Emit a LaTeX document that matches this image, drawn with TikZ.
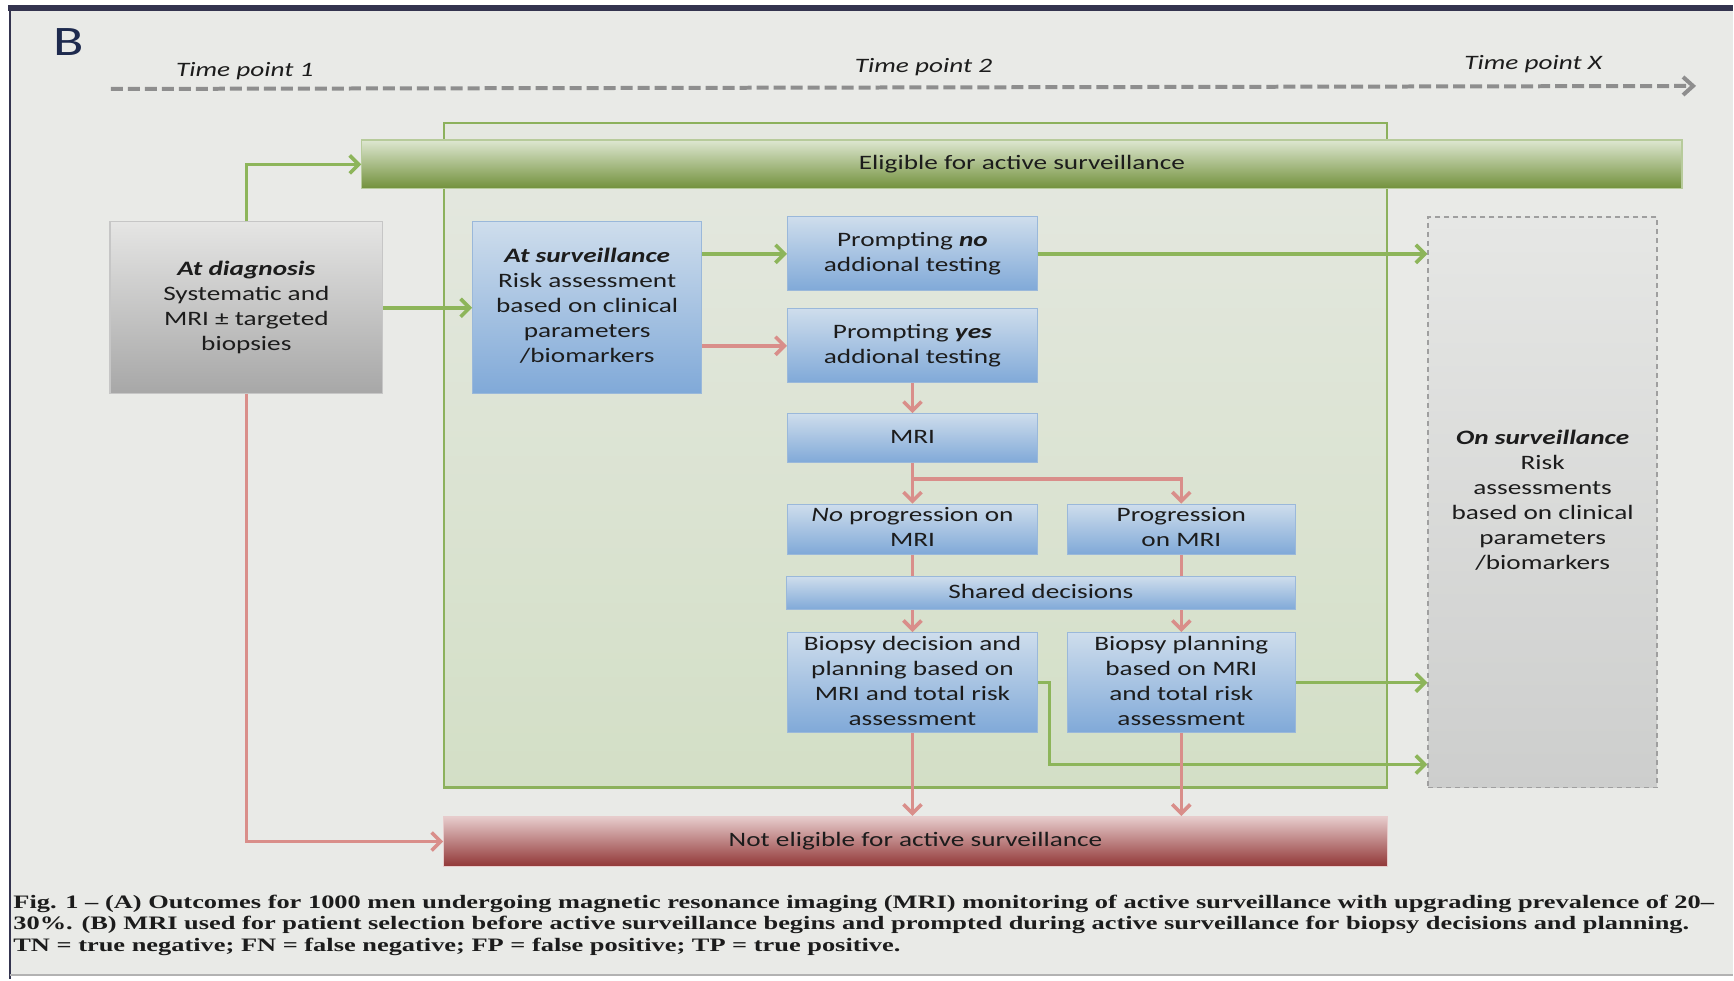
\documentclass[tikz,border=0pt]{standalone}
\usepackage{fontspec}
\setmainfont{Carlito}
\newfontfamily\captionserif{Liberation Serif}
\usepackage{graphicx}
\usetikzlibrary{arrows.meta}

\definecolor{pagebg}{HTML}{E9EAE7}
\definecolor{frameline}{HTML}{34344F}
\definecolor{txtdark}{HTML}{1C1C1C}
\definecolor{letterB}{HTML}{1E2A4E}
\definecolor{arrgreen}{HTML}{8DB55A}
\definecolor{arrred}{HTML}{D98E8A}
\definecolor{timegray}{HTML}{8E8E8E}
\definecolor{paneledge}{HTML}{8CB15C}
\definecolor{paneltop}{HTML}{E5E8E1}
\definecolor{panelbot}{HTML}{D3DFC6}
\definecolor{eligtop}{HTML}{DEE7D1}
\definecolor{eligmid}{HTML}{B7CB9B}
\definecolor{eligbot}{HTML}{71903A}
\definecolor{notetop}{HTML}{E7CCCC}
\definecolor{notemid}{HTML}{C58B8B}
\definecolor{notebot}{HTML}{913737}
\definecolor{graytop}{HTML}{E5E5E4}
\definecolor{graybot}{HTML}{A7A7A7}
\definecolor{bluetop}{HTML}{CEDDEC}
\definecolor{bluebot}{HTML}{80A9D8}
\definecolor{blueedge}{HTML}{9AB8DA}
\definecolor{survtop}{HTML}{E6E7E5}
\definecolor{survbot}{HTML}{CDCECD}

\newcommand{\widetext}[1]{\scalebox{1.33}[1]{\begin{tabular}{@{}c@{}}#1\end{tabular}}}
\newcommand{\widecaption}[1]{\scalebox{1.39}[1]{#1}}

\begin{document}
\begin{tikzpicture}[x=0.5pt,y=-0.5pt]
  \tikzstyle{every node}=[font=\fontsize{10.25}{12.5}\selectfont, text=txtdark, inner sep=0pt]
  \tikzstyle{bluebox}=[draw=blueedge, line width=0.6pt, top color=bluetop, bottom color=bluebot]
  \tikzstyle{graybox}=[draw=gray!45, line width=0.6pt, top color=graytop, bottom color=graybot]
  \tikzstyle{yesbar}=[draw=eligmid, line width=0.6pt, top color=eligtop, middle color=eligmid, bottom color=eligbot]
  \tikzstyle{nobar}=[draw=notetop, line width=0.6pt, top color=notetop, middle color=notemid, bottom color=notebot]
  \tikzstyle{goarrow}=[draw=arrgreen, line width=1.8pt, -{Straight Barb[length=4.5pt,width=9pt]}]
  \tikzstyle{stoparrow}=[draw=arrred, line width=1.8pt, -{Straight Barb[length=4.5pt,width=9pt]}]
  \tikzstyle{stopline}=[draw=arrred, line width=1.8pt]
  \tikzstyle{timeline}=[draw=timegray, line width=2pt, dash pattern=on 6pt off 2.5pt, -{Straight Barb[length=5pt,width=9pt]}]
  \tikzstyle{timelabel}=[font=\fontsize{10.25}{12.5}\selectfont\itshape]
  \tikzstyle{captionline}=[anchor=base west, font=\captionserif\bfseries\fontsize{9.5}{11}\selectfont]

  \fill[white] (0,0) rectangle (1734,980);
  \fill[pagebg] (10,10) rectangle (1734,976);
  \fill[frameline] (8,5) rectangle (1734,11);
  \draw[frameline, line width=0.8pt] (10,11) -- (10,980);
  \draw[gray!60, line width=1pt] (10,976) -- (1734,976);

  \node[font=\fontsize{21}{24}\selectfont, text=letterB] (panelB) at (69,42) {\scalebox{1.33}[1]{B}};

  \coordinate (tstart) at (111,89);
  \coordinate (tend) at (1697,86);
  \draw[timeline] (tstart) -- (tend);
  \node[timelabel] (tp1) at (245,72) {\widetext{Time point 1}};
  \node[timelabel] (tp2) at (924,68) {\widetext{Time point 2}};
  \node[timelabel] (tpx) at (1534,65) {\widetext{Time point X}};

  \node[draw=paneledge, line width=1.2pt, top color=paneltop, bottom color=panelbot,
        minimum width=472pt, minimum height=332.5pt] (panel) at (916,455.5) {};

  \node[yesbar, minimum width=660.5pt, minimum height=24.5pt] (elig) at (1022.5,164.5)
    {\widetext{Eligible for active surveillance}};
  \node[nobar, minimum width=472pt, minimum height=25pt] (notelig) at (916,842)
    {\widetext{Not eligible for active surveillance}};

  \node[graybox, minimum width=136.5pt, minimum height=86pt] (diag) at (246.5,308)
    {\widetext{\textbf{\textit{At diagnosis}}\\Systematic and\\MRI ± targeted\\biopsies}};
  \node[bluebox, minimum width=114.5pt, minimum height=86pt] (surv) at (587.5,308)
    {\widetext{\textbf{\textit{At surveillance}}\\Risk assessment\\based on clinical\\parameters\\/biomarkers}};
  \node[bluebox, minimum width=125pt, minimum height=37pt] (pno) at (913,254)
    {\widetext{Prompting \textbf{\textit{no}}\\addional testing}};
  \node[bluebox, minimum width=125pt, minimum height=37pt] (pyes) at (913,346)
    {\widetext{Prompting \textbf{\textit{yes}}\\addional testing}};
  \node[bluebox, minimum width=125pt, minimum height=24.5pt] (mri) at (913,438.5)
    {\widetext{MRI}};
  \node[bluebox, minimum width=125pt, minimum height=24.5pt] (noprog) at (913,529.5)
    {\widetext{\textit{No} progression on\\MRI}};
  \node[bluebox, minimum width=114pt, minimum height=24.5pt] (prog) at (1182,529.5)
    {\widetext{Progression\\on MRI}};
  \node[bluebox, minimum width=254.5pt, minimum height=16.5pt] (shared) at (1041.5,593.5)
    {\widetext{Shared decisions}};
  \node[bluebox, minimum width=125pt, minimum height=49pt] (bdec) at (913,683)
    {\widetext{Biopsy decision and\\planning based on\\MRI and total risk\\assessment}};
  \node[bluebox, minimum width=114pt, minimum height=49pt] (bplan) at (1182,683)
    {\widetext{Biopsy planning\\based on MRI\\and total risk\\assessment}};

  \node[draw=gray!75, line width=0.8pt, dash pattern=on 2.5pt off 2pt, top color=survtop, bottom color=survbot,
        minimum width=114.5pt, minimum height=285.5pt] (onsurv) at (1543.5,502.5)
    {\widetext{\textbf{\textit{On surveillance}}\\Risk\\assessments\\based on clinical\\parameters\\/biomarkers}};

  \coordinate (split) at (913,479);
  \coordinate (bypass) at (1050,765);

  \draw[goarrow] (diag.north) |- (elig.west);
  \draw[goarrow] (diag.east) -- (surv.west);
  \draw[goarrow] (surv.east |- pno) -- (pno.west);
  \draw[stoparrow] (surv.east |- pyes) -- (pyes.west);
  \draw[stoparrow] (pyes.south) -- (mri.north);
  \draw[stoparrow] (mri.south) -- (noprog.north);
  \draw[stoparrow] (split) -| (prog.north);
  \draw[stopline] (noprog.south) -- (noprog.south |- shared.north);
  \draw[stopline] (prog.south) -- (prog.south |- shared.north);
  \draw[stoparrow] (shared.south -| bdec) -- (bdec.north);
  \draw[stoparrow] (shared.south -| bplan) -- (bplan.north);
  \draw[goarrow] (bdec.east) -| (bypass) -- (bypass -| onsurv.west);
  \draw[stoparrow] (bdec.south) -- (bdec.south |- notelig.north);
  \draw[stoparrow] (bplan.south) -- (bplan.south |- notelig.north);
  \draw[goarrow] (pno.east) -- (pno.east -| onsurv.west);
  \draw[goarrow] (bplan.east) -- (bplan.east -| onsurv.west);
  \draw[stoparrow] (diag.south) |- (notelig.west);

  \node[captionline] (cap1) at (13,909) {\widecaption{Fig. 1 – (A) Outcomes for 1000 men undergoing magnetic resonance imaging (MRI) monitoring of active surveillance with upgrading prevalence of 20–}};
  \node[captionline] (cap2) at (13,930) {\widecaption{30\%. (B) MRI used for patient selection before active surveillance begins and prompted during active surveillance for biopsy decisions and planning.}};
  \node[captionline] (cap3) at (13,952) {\widecaption{TN = true negative; FN = false negative; FP = false positive; TP = true positive.}};
\end{tikzpicture}
\end{document}
